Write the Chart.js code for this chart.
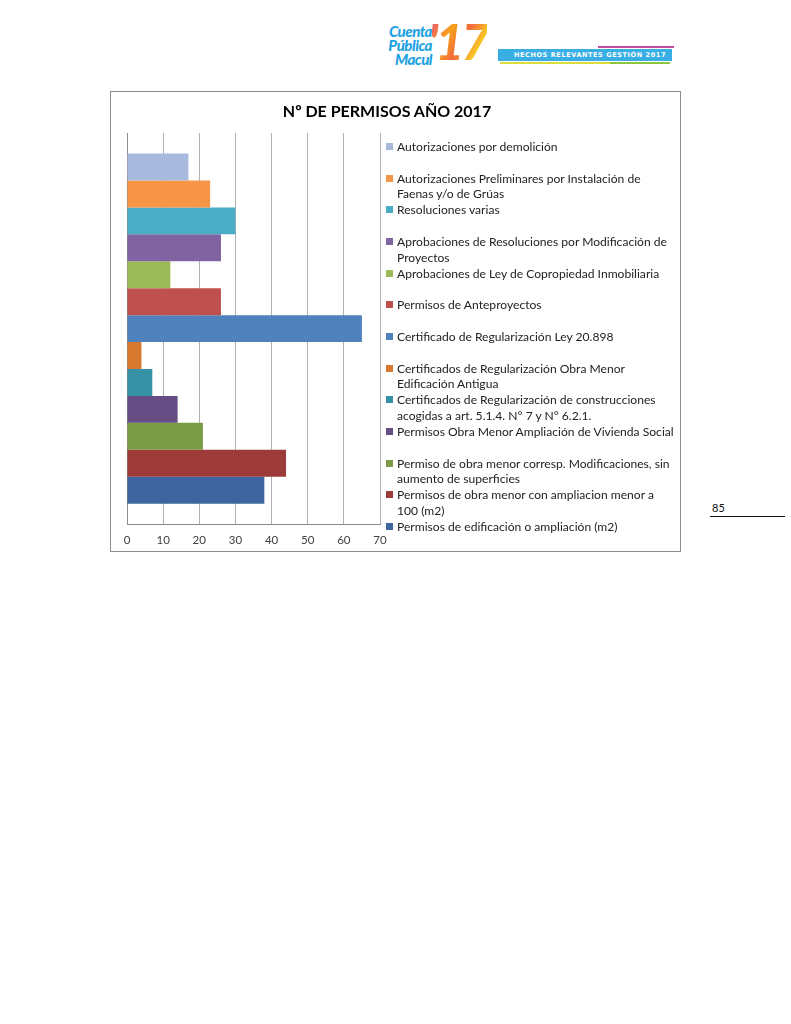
<!DOCTYPE html>
<html>
<head>
<meta charset="utf-8">
<script src="https://cdn.jsdelivr.net/npm/chart.js@4.4.0/dist/chart.umd.min.js"></script>
<style>
  body { margin: 0; background: #fff; font-family: Lato, "Open Sans", sans-serif; }
  #page { position: relative; width: 791px; height: 1024px; overflow: hidden; }

  /* header logo */
  #logo-words { position: absolute; left: 358px; top: 24px; width: 74px; text-align: right;
    font: italic 900 15px/14px Lato, sans-serif; color: #1ea3e2; letter-spacing: -0.5px; }
  #logo-17 { position: absolute; left: 428px; top: 14px; font: italic 900 50px/54px Lato, sans-serif;
    letter-spacing: -3px;
    background: linear-gradient(120deg, #e83e8c 0%, #f7a21b 35%, #f26b3a 55%, #f9d423 80%, #e94b7a 100%);
    -webkit-background-clip: text; background-clip: text; color: transparent; }
  #banner { position: absolute; left: 498px; top: 49px; width: 174px; height: 12px; background: #38aee3;
    color: #fff; font: bold 6.5px/12px "DejaVu Sans", sans-serif; letter-spacing: 0.6px; padding-left: 16px; box-sizing: border-box; white-space: nowrap; }
  #banner-top { position: absolute; left: 598px; top: 46px; width: 76px; height: 2px; background: #c64b9c; }
  #banner-bot { position: absolute; left: 500px; top: 62px; width: 110px; height: 2px; background: #d8de3a; }
  #banner-bot2 { position: absolute; left: 610px; top: 62px; width: 60px; height: 2px; background: #8cc63f; }

  #box { position: absolute; left: 110px; top: 91px; width: 569px; height: 459px; border: 1px solid #8c8c8c; }
  #chart-wrap { position: absolute; left: 0; top: 0; width: 569px; height: 464px; }
  #title { position: absolute; left: 0; top: 9px; width: 552px; text-align: center;
    font: bold 16px Lato, sans-serif; color: #000; }
  #legend { position: absolute; left: 0; top: 0; }
  .item { position: absolute; left: 274px; width: 300px; font: 12.1px/15.6px Lato, sans-serif;
    color: #222; white-space: pre-line; padding-left: 12px; }
  .item span.sw { position: absolute; left: 1px; top: 4px; width: 7px; height: 7px; }

  #pnum { position: absolute; left: 712px; top: 501px; font: 11px Lato, sans-serif; color: #111; }
  #pline { position: absolute; left: 710px; top: 516px; width: 75px; height: 1px; background: #111; }
</style>
</head>
<body>
<div id="page">
  <div id="logo-words">Cuenta<br>Pública<br>Macul</div>
  <div id="logo-17">'17</div>
  <div id="banner-top"></div>
  <div id="banner">HECHOS RELEVANTES GESTIÓN 2017</div>
  <div id="banner-bot"></div>
  <div id="banner-bot2"></div>

  <div id="box">
    <div id="chart-wrap"><canvas id="myChart" width="569" height="464"></canvas></div>
    <div id="title">Nº DE PERMISOS AÑO 2017</div>
    <div id="legend"></div>
  </div>

  <div id="pnum">85</div>
  <div id="pline"></div>
</div>

<script>
// Data (top bar first, same order as the legend)
const seriesNames = [
  'Autorizaciones  por demolición',
  'Autorizaciones Preliminares por Instalación de\nFaenas y/o de Grúas',
  'Resoluciones varias',
  'Aprobaciones de Resoluciones por Modificación de\nProyectos',
  'Aprobaciones de Ley de Copropiedad Inmobiliaria',
  'Permisos de Anteproyectos',
  'Certificado de Regularización Ley 20.898',
  'Certificados de Regularización Obra Menor\nEdificación Antigua',
  'Certificados de Regularización de construcciones\nacogidas a art. 5.1.4. N° 7 y N° 6.2.1.',
  'Permisos Obra Menor Ampliación de Vivienda Social',
  'Permiso de obra menor corresp. Modificaciones, sin\naumento de superficies',
  'Permisos de obra menor con ampliacion menor a\n100 (m2)',
  'Permisos de edificación o ampliación (m2)'
];
const seriesValues = [17, 23, 30, 26, 12, 26, 65, 4, 7, 14, 21, 44, 38];
const seriesColors = [
  '#a7b9dc', '#f79646', '#4bacc6', '#8064a2', '#9bbb59', '#c0504d', '#4f81bd',
  '#d9782f', '#3791a4', '#664e85', '#7a9a45', '#9c3b3a', '#3e65a0'
];
const categories = [''];
const xTicks = [0, 10, 20, 30, 40, 50, 60, 70];

// Build datasets
const datasets = seriesNames.map((name, i) => ({
  label: name.replace('\n', ' '),
  data: [seriesValues[i]],
  backgroundColor: seriesColors[i],
  borderWidth: 0,
  categoryPercentage: 0.895,
  barPercentage: 1
}));

const ctx = document.getElementById('myChart').getContext('2d');
const myChart = new Chart(ctx, {
  type: 'bar',
  data: { labels: categories, datasets: datasets },
  options: {
    indexAxis: 'y',
    responsive: false,
    animation: false,
    layout: { padding: { left: 16, top: 41, right: 300, bottom: 0 } },
    plugins: { legend: { display: false }, tooltip: { enabled: false }, title: { display: false } },
    scales: {
      x: {
        min: xTicks[0],
        max: xTicks[xTicks.length - 1],
        afterBuildTicks: (axis) => { axis.ticks = xTicks.map(v => ({ value: v })); },
        grid: { color: '#b0b0b0', lineWidth: 1, drawTicks: false },
        border: { color: '#8c8c8c', width: 1 },
        ticks: { padding: 9, color: '#404040', font: { family: 'Lato', size: 11.5 } }
      },
      y: {
        grid: { display: false, drawTicks: false },
        border: { color: '#8c8c8c', width: 1 },
        ticks: { display: false }
      }
    }
  }
});

// Legend (drawn next to the plot, like the original)
const legend = document.getElementById('legend');
seriesNames.forEach((name, i) => {
  const div = document.createElement('div');
  div.className = 'item';
  div.style.top = (47 + i * 31.67) + 'px';
  div.innerHTML = '<span class="sw" style="background:' + seriesColors[i] + '"></span>';
  div.appendChild(document.createTextNode(name));
  legend.appendChild(div);
});
</script>
</body>
</html>
